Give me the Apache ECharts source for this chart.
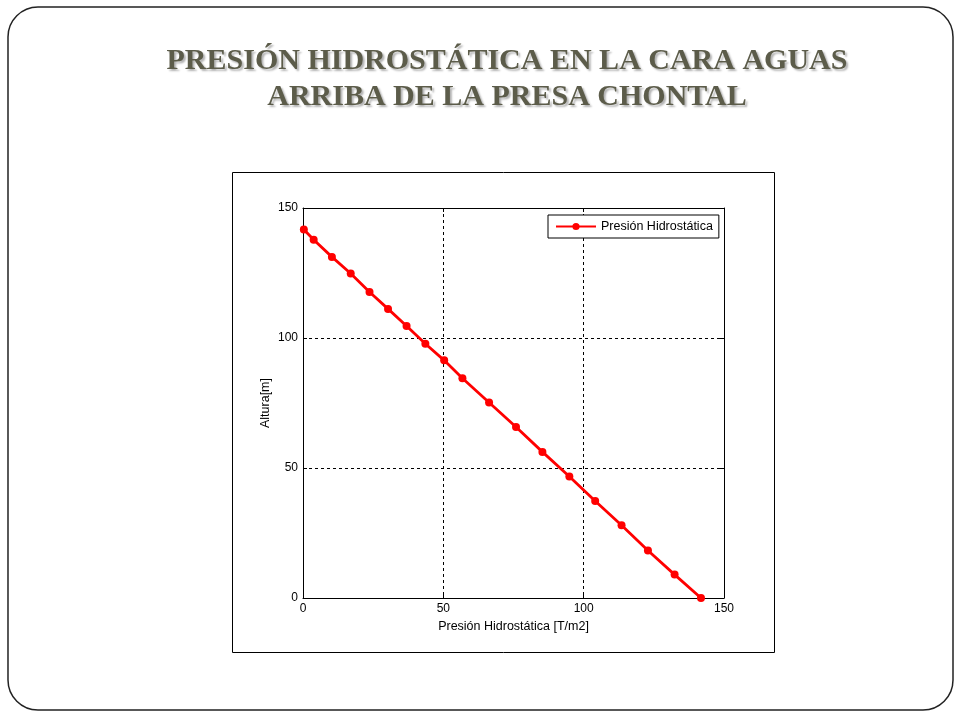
<!DOCTYPE html>
<html>
<head>
<meta charset="utf-8">
<script src="https://cdn.jsdelivr.net/npm/echarts@6/dist/echarts.min.js"></script>
<style>
  html, body { margin: 0; padding: 0; background: #fff; }
  #main { width: 960px; height: 720px; }
</style>
</head>
<body>
<div id="main"></div>
<script>
// valores
const presion = [0.3, 3.8, 10.3, 17.0, 23.7, 30.3, 36.9, 43.6, 50.3, 56.8, 66.3, 75.9, 85.3, 94.9, 104.1, 113.5, 122.9, 132.4, 141.8];
const altura  = [141.7, 137.8, 131.2, 124.8, 117.7, 111.2, 104.6, 97.8, 91.4, 84.5, 75.2, 65.8, 56.2, 46.7, 37.3, 28.0, 18.3, 9.0, 0];
const titulo = ['PRESIÓN HIDROSTÁTICA EN LA CARA AGUAS', 'ARRIBA DE LA PRESA CHONTAL'];
const serieNombre = 'Presión Hidrostática';
const ejeX = 'Presión Hidrostática [T/m2]';
const ejeY = 'Altura[m]';

const chart = echarts.init(document.getElementById('main'));

const fuente = 'Liberation Sans, Arial, sans-serif';
const labelFont = { color: '#000', fontSize: 12, fontFamily: fuente };

const option = {
    backgroundColor: '#fff',
    animation: false,
    title: {
        text: titulo.join('\n'),
        left: 502,
        top: 38,
        textAlign: 'center',
        textStyle: {
            fontFamily: 'Liberation Serif, Times New Roman, serif',
            fontWeight: 'bold',
            fontSize: 30,
            lineHeight: 36,
            color: '#5c5c4a',
            textShadowColor: 'rgba(0,0,0,0.3)',
            textShadowOffsetX: 2,
            textShadowOffsetY: 2,
            textShadowBlur: 2
        }
    },
    graphic: [
        {
            type: 'rect',
            z: -10,
            shape: { x: 8, y: 7, width: 945, height: 703, r: 30 },
            style: { fill: 'none', stroke: '#222', lineWidth: 1.5 }
        },
        {
            type: 'rect',
            z: -10,
            shape: { x: 232.5, y: 172.5, width: 542, height: 480 },
            style: { fill: '#fff', stroke: '#000', lineWidth: 1 }
        }
    ],
    legend: {
        data: [serieNombre],
        left: 548,
        top: 215,
        padding: [5, 6, 5, 7],
        itemWidth: 40,
        itemHeight: 9,
        itemGap: 4,
        backgroundColor: '#fff',
        borderColor: '#000',
        borderWidth: 1,
        borderRadius: 0,
        textStyle: { color: '#000', fontSize: 12.5, fontFamily: fuente }
    },
    grid: {
        left: 303,
        top: 208,
        right: 236,
        bottom: 122
    },
    xAxis: [
        {
            type: 'value',
            min: 0,
            max: 150,
            interval: 50,
            name: ejeX,
            nameLocation: 'middle',
            nameGap: 22,
            nameTextStyle: { color: '#000', fontSize: 12.5, fontFamily: fuente },
            axisLine: { show: true, onZero: false, lineStyle: { color: '#000', width: 1 } },
            axisTick: { show: true, inside: true, length: 4, lineStyle: { color: '#000' } },
            axisLabel: Object.assign({ margin: 5 }, labelFont),
            splitLine: { show: true, lineStyle: { color: '#000', type: [3, 3], width: 1 } }
        },
        {
            type: 'value',
            position: 'top',
            min: 0,
            max: 150,
            interval: 50,
            axisLine: { show: true, onZero: false, lineStyle: { color: '#000', width: 1 } },
            axisTick: { show: true, inside: true, length: 4, lineStyle: { color: '#000' } },
            axisLabel: { show: false },
            splitLine: { show: false }
        }
    ],
    yAxis: [
        {
            type: 'value',
            min: 0,
            max: 150,
            interval: 50,
            name: ejeY,
            nameLocation: 'middle',
            nameGap: 31,
            nameTextStyle: { color: '#000', fontSize: 12.5, fontFamily: fuente },
            axisLine: { show: true, onZero: false, lineStyle: { color: '#000', width: 1 } },
            axisTick: { show: true, inside: true, length: 4, lineStyle: { color: '#000' } },
            axisLabel: Object.assign({ margin: 5 }, labelFont),
            splitLine: { show: true, lineStyle: { color: '#000', type: [3, 3], width: 1 } }
        },
        {
            type: 'value',
            position: 'right',
            min: 0,
            max: 150,
            interval: 50,
            axisLine: { show: true, onZero: false, lineStyle: { color: '#000', width: 1 } },
            axisTick: { show: true, inside: true, length: 4, lineStyle: { color: '#000' } },
            axisLabel: { show: false },
            splitLine: { show: false }
        }
    ],
    series: [{
        name: serieNombre,
        type: 'line',
        data: presion.map((p, i) => [p, altura[i]]),
        symbol: 'circle',
        symbolSize: 8,
        showAllSymbol: true,
        lineStyle: { color: '#ff0000', width: 2.8 },
        itemStyle: { color: '#ff0000' }
    }]
};

chart.setOption(option);
</script>
</body>
</html>
